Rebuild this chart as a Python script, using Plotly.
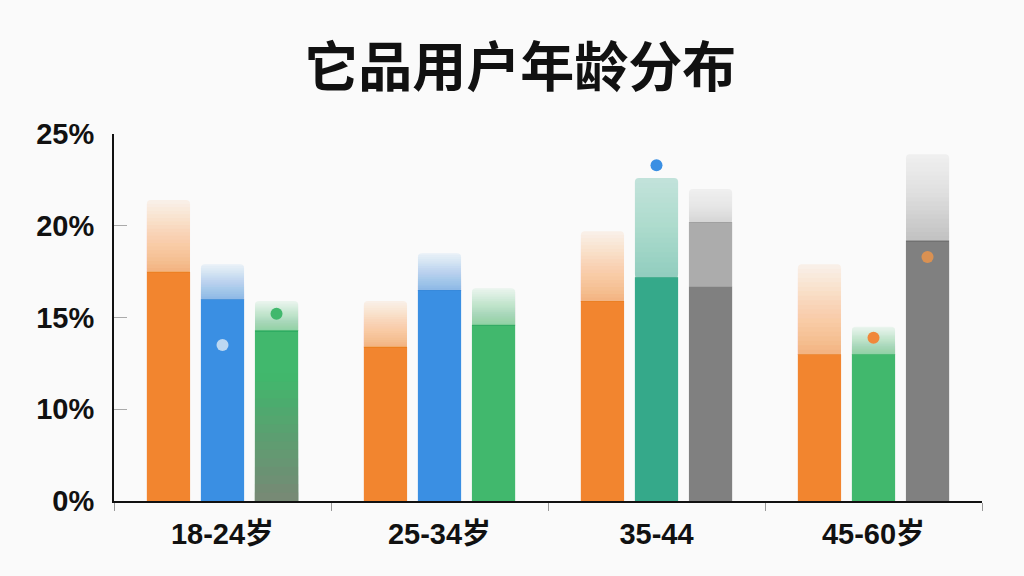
import plotly.graph_objects as go

CATEGORIES = ["18-24岁", "25-34岁", "35-44", "45-60岁"]

# three bars per age group: solid share and the lighter upper range
A_SOLID = [17.5, 13.4, 15.9, 13.0]
A_TOP = [21.4, 15.9, 19.7, 17.9]
B_SOLID = [16.0, 16.5, 17.2, 13.0]
B_TOP = [17.9, 18.5, 22.6, 14.5]
C_SOLID = [14.3, 14.6, 16.7, 19.2]
C_MID = [None, None, 20.2, None]
C_TOP = [15.9, 16.6, 22.0, 23.9]

# dot markers sitting on the bars
A_DOTS = [None, None, None, None]
B_DOTS = [13.5, None, 23.3, 13.9]
C_DOTS = [15.2, None, None, 18.3]

Y_TICKS = [5, 10, 15, 20, 25]
Y_LABELS = ["0%", "10%", "15%", "20%", "25%"]

ORANGE = "#F2852F"
BLUE = "#3A8FE3"
GREEN = "#41B86D"
TEAL = "#35A98A"
GRAY = "#808080"
OLIVE = "#7C8B7A"
BG = "#FAFAFA"
FONT = "Liberation Sans, Noto Sans CJK SC, sans-serif"

A_COLORS = [ORANGE, ORANGE, ORANGE, ORANGE]
B_COLORS = [BLUE, BLUE, TEAL, GREEN]
C_COLORS = [GREEN, GREEN, GRAY, GRAY]
C_BOTTOM = [OLIVE, GREEN, GRAY, GRAY]

B_DOT_COLORS = ["#BCD8F2", BLUE, BLUE, "#F0883A"]
C_DOT_COLORS = [GREEN, GREEN, GREEN, "#DA9152"]

# opacity of the faded top: (just above the solid part, at the very top)
FADE = {TEAL: (0.5, 0.28), GRAY: (0.42, 0.08)}
FADE_DEFAULT = (0.55, 0.08)

N = 20  # overlapping layers used to fake the gradients


def rgb(c):
    c = c.lstrip("#")
    return [int(c[i:i + 2], 16) for i in (0, 2, 4)]


def rgba(c, alpha):
    r, g, b = rgb(c)
    return "rgba(%d,%d,%d,%.4f)" % (r, g, b, min(max(alpha, 0), 1))


def mix(c1, c2, t):
    a, b = rgb(c1), rgb(c2)
    return "#%02x%02x%02x" % tuple(round(a[i] + (b[i] - a[i]) * t) for i in range(3))


def layer_alphas(lo, hi):
    # layer k covers levels 0..k, so the stacked opacity at level j runs lo -> hi
    t = [min(max(lo + (hi - lo) * (j + 0.5) / N, 0), 0.999) for j in range(N)] + [0]
    return [1 - (1 - t[j]) / (1 - t[j + 1]) for j in range(N)]


def add_layers(fig, group, start, stop, colors, fades, radius=0):
    alphas = [layer_alphas(lo, hi) for lo, hi in fades]
    for k in range(N):
        h = [(e - s) * (k + 1) / N + 0.05 for s, e in zip(start, stop)]
        base = [s - 0.05 for s in start]
        col = [rgba(c, a[k]) for c, a in zip(colors, alphas)]
        fig.add_bar(x=CATEGORIES, y=h, base=base, offsetgroup=group,
                    marker=dict(color=col, line_width=0,
                                cornerradius=radius if k == N - 1 else 0),
                    hoverinfo="skip", showlegend=False)


def add_slot(fig, group, solid, top, colors, bottom=None, mid=None):
    floor = Y_TICKS[0]
    fig.add_bar(x=CATEGORIES, y=solid, offsetgroup=group,
                marker=dict(color=colors, line_width=0),
                hoverinfo="skip", showlegend=False)

    if bottom:
        # darker tint towards the foot of some bars
        fades = [(1.0, -0.35) if b != c else (0, 0) for b, c in zip(bottom, colors)]
        add_layers(fig, group, [floor] * len(solid), solid, bottom, fades)

    start = solid
    if mid:
        h = [(m - s) if m else 0 for m, s in zip(mid, solid)]
        fig.add_bar(x=CATEGORIES, y=h, base=solid, offsetgroup=group,
                    marker=dict(color=[mix(c, BG, 0.36) for c in colors], line_width=0),
                    hoverinfo="skip", showlegend=False)
        start = [m if m else s for m, s in zip(mid, solid)]

    fades = []
    for c, m in zip(colors, mid or [None] * len(colors)):
        lo, hi = FADE.get(c, FADE_DEFAULT)
        if m:
            lo = 0.3
        fades.append((lo, hi))
    add_layers(fig, group, start, top, colors, fades, radius=4)


def add_dots(fig, group, vals, colors):
    fig.add_scatter(x=CATEGORIES, y=vals, mode="markers", offsetgroup=group,
                    marker=dict(size=12, color=colors, line_width=0),
                    hoverinfo="skip", showlegend=False)


fig = go.Figure()
add_slot(fig, "A", A_SOLID, A_TOP, A_COLORS)
add_slot(fig, "B", B_SOLID, B_TOP, B_COLORS)
add_slot(fig, "C", C_SOLID, C_TOP, C_COLORS, C_BOTTOM, C_MID)
add_dots(fig, "A", A_DOTS, A_COLORS)
add_dots(fig, "B", B_DOTS, B_DOT_COLORS)
add_dots(fig, "C", C_DOTS, C_DOT_COLORS)

fig.update_layout(
    width=1024, height=576,
    paper_bgcolor=BG, plot_bgcolor=BG,
    margin=dict(l=114, r=42, t=134, b=75),
    barmode="group", bargap=0.253, bargroupgap=0.2,
    scattermode="group", scattergap=0.253,
    showlegend=False,
    title=dict(text="<b>它品用户年龄分布</b>", x=0.508, xanchor="center",
               y=1 - 68 / 576, yanchor="middle",
               font=dict(size=54, color="#111111", family="Noto Sans CJK SC")),
)
fig.update_xaxes(
    type="category", showline=True, linecolor="#111111", linewidth=2,
    ticks="outside", tickson="boundaries", ticklen=8, tickcolor="#999999",
    showgrid=False, ticklabelstandoff=6,
    tickfont=dict(size=29, color="#111111", family=FONT, weight="bold"),
)
fig.update_yaxes(
    range=[Y_TICKS[0], Y_TICKS[-1]], tickvals=Y_TICKS, ticktext=Y_LABELS,
    showline=True, linecolor="#111111", linewidth=2,
    ticks="inside", ticklen=13, tickcolor="#AAAAAA",
    showgrid=False, zeroline=False, ticklabelstandoff=12,
    tickfont=dict(size=29, color="#111111", family=FONT, weight="bold"),
)

fig.write_html("out.html", config={"displayModeBar": False},
               post_script="document.body.style.margin='0';document.body.style.overflow='hidden';")
